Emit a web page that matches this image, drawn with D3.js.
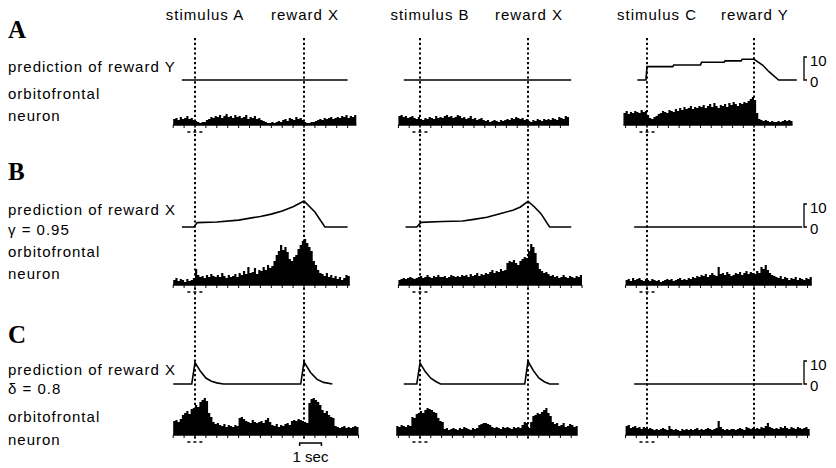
<!DOCTYPE html>
<html>
<head>
<meta charset="utf-8">
<script src="https://cdn.jsdelivr.net/npm/d3@7"></script>
<style>
body{margin:0;background:#fff}
text{font-family:'Liberation Sans',Arial,sans-serif;fill:#000}
</style>
</head>
<body>
<svg id="fig" width="836" height="468"></svg>
<script>

const panels = ['A','B','C']
const headers = [['stimulus A','reward X'],['stimulus B','reward X'],['stimulus C','reward Y']]
const rowLabels = [['prediction of reward Y'],['prediction of reward X','γ = 0.95'],['prediction of reward X','δ = 0.8']]
const events = [0, 5]   // seconds: stimulus onset, reward
const binWidth = 0.1

// histogram start time (s) per row / column
const histStart = [[-1.0,-1.0,-1.1],[-1.0,-1.0,-1.0],[-1.0,-1.1,-1.0]]

const histA1 = [6,7,5,8,6,7,9,6,7,5, 4,3,2,3,3, 5,6,8,7,9, 8,10,7,9,11,8,9,7,10,8, 9,7,8,10,6,8,7,9,6,7,
  5,4,3,2,2,3,2,3,4,3, 5,6,4,7,6,5,8,6,7,5, 3,2,2,3,3, 4,5,6,5,7,6,7,8,6,7, 8,7,9,8,10,7,9,8,10]
const histA2 = [9,10,8,9,7,8,9,7,6,8, 6,5,7,6,8,7,6,9,7,8, 7,9,10,8,9,7,8,10,9,7, 8,6,7,9,6,7,5,6,7,5,
  4,5,3,4,5,4,3,5,4,5, 6,5,7,6,8,7,6,7,5,6, 4,3,5,4,6,5,4,6,5,6, 5,7,6,5,8,7,6,9,8]
const histA3 = [12,14,11,13,12,14,13,12,15,13,14, 10,7,6,8,9, 11,12,14,13,12,15,14,13,16,14,
  17,15,18,16,17,19,16,18,17,19, 18,20,17,19,21,18,22,19,17,20, 19,21,18,22,20,23,21,19,22,21,
  23,22,24,26,28,25, 12,6,5,4, 5,4,3,4,3,3,4,3,4,5,4,5,4]

const histB1 = [5,7,4,6,5,3,6,4,5,7, 16,10, 8,9,7,10,8,11,9,8, 10,8,12,9,7,10,8,9,11,8,
  12,10,14,11,18,12,13,17,11,15, 14,18,15,20,17,19,24, 30,34,40,35,38,33, 26,24,28,30,
  36,40,44,46,42,38,34, 24,20,15,12, 11,9,12,8,10,7,9,6,8,5,7,10,9]
const histB2 = [5,6,7,6,7,8,7,6,7,8, 9,7,8,10,8,7,9,8,10,8, 8,9,7,8,10,9,8,9,8,10,
  9,10,8,11,9,10,12,9,11,10, 12,11,13,15,12,14,13,16,14,15, 22,24,23,25,22,20, 24,26,28,27,
  34,41,38,32, 22,16,14,12,13,11, 9,10,8,9,7,8,10,8,7,9,8,7,9,8,10]
const histB3 = [5,6,4,7,5,6,7,5,4,6, 5,4,6,5,4,5,3,4,5,6, 5,6,4,5,6,7,5,6,5,7, 6,8,7,9,8,10,9,11,8,10,
  12,10,9,18,11,12,10,13,11,9, 10,12,11,13,10,12,14,11,13,12, 11,14,12,18,16,20,15,12,10,9,
  8,7,9,6,8,7,5,7,6,8,5,7,6,5,7,6,8]

const histC1 = [14,15,13,16, 20,22,24,21,26,27, 30,28,33,35,37,34, 22,18, 13,11,12,10,9,11,8,10,9,8,10,9,
  17,18,16, 14,13,12,15,13,12,13,14,12,15,17,13, 10,9,11,8,10,9,11,12,10, 14,15,14,16,15,14,
  13,12, 32,36,37,35,33,30, 25,22,24,20,18,17, 9,8,7,8,9,7,8,7,8,9,8]
const histC2 = [9,8,10,9,8,10,9, 18,17,21,22, 24,22,25,27,26,25,23,22, 17,14,13,
  6,7,5,6,7,6,5,7,6,8,7,6,5,7,6,7, 10,11,12,12,11,10, 8,7,8,7,6,8,7,8,7,6,8,7,8,7,
  10,13,12,7,13, 19,20,22,21,23,25,27,22,19, 13,11,12,9,10,12,8,9,11,10,8,9]
const histC3 = [9,10,7,8,9,7,8,6,8,7, 6,7,6,5,6,5,6,7,6,5, 9,6,5,6,5,4,6,5,6,5, 6,5,6,7,5,6,5,6,7,6,
  5,6,7,14,8,6,5,6,5,6, 6,5,6,7,6,5,8,7,6,7, 6,7,6,8,7,9,12,8,7,6,
  7,6,8,7,9,7,6,8,7,6,8,7,6,7,8,6]

// model prediction traces: [time s, value]
const predA1 = [[-0.6,0],[7.0,0]]
const predA2 = [[-0.75,0],[7.0,0]]
const predA3 = [[-0.45,0],[-0.05,0],[0,5.8],[1.2,5.8],[1.25,6.5],[2.5,6.5],[2.55,7.7],[3.6,7.7],
  [3.65,8.3],[4.4,8.3],[4.45,9],[5,9],[5.4,6.5],[5.7,3.6],[6.15,0],[7.0,0]]

const predB1 = [[-0.6,0],[-0.05,0],[0.1,1.9],[1,2.2],[2,3.0],[3,4.6],[3.5,5.6],[4,7],[4.5,8.8],
  [5,11.3],[5.5,6.5],[5.96,0],[7.0,0]]
const predB2 = [[-0.67,0],[-0.15,0],[0.05,2.0],[1.05,2.4],[1.97,2.6],[2.5,3.3],[3.1,4.2],[3.7,5.8],
  [4.3,7.3],[4.65,8.7],[5,11.2],[5.3,8.7],[5.6,5.8],[6.0,0],[7.0,0]]
const predB3 = [[-0.6,0],[7.25,0]]

const predC1 = [[-1.0,0],[-0.15,0],[0,9.3],[0.25,5.5],[0.5,2.6],[0.75,1.2],[1,0.5],[1.3,0],
  [4.85,0],[5,9.6],[5.3,5.0],[5.6,2.0],[5.9,0.7],[6.3,0]]
const predC2 = [[-0.75,0],[-0.15,0],[0,9.1],[0.25,5.3],[0.5,2.5],[0.75,1.0],[0.95,0],
  [4.85,0],[5,9.9],[5.25,5.8],[5.5,2.6],[5.75,1.0],[6.0,0],[6.43,0]]
const predC3 = [[-0.6,0],[7.25,0]]

const hists = [[histA1,histA2,histA3],[histB1,histB2,histB3],[histC1,histC2,histC3]]
const preds = [[predA1,predA2,predA3],[predB1,predB2,predB3],[predC1,predC2,predC3]]

// layout
const colX = [[195,304],[420,528],[647,754]]
const predBase = [80,227,384]
const histBase = [125,285,435]
const letterY = [38,180,343]
const labelY = [[72],[215,235],[375,394]]
const neuronY = [[99,121],[257,279],[422,445]]

const svg = d3.select('#fig')

const xs = colX.map(r => d3.scaleLinear().domain(events).range(r))
const yPred = predBase.map(b => d3.scaleLinear().domain([0,10]).range([b, b-23]))
const yHist = histBase.map(b => d3.scaleLinear().domain([0,50]).range([b, b-50]))

// column headers
headers.forEach((h,c) => {
  svg.append('g').selectAll('text')
    .data(h)
    .enter()
    .append('text')
    .attr('x',(d,i) => xs[c](events[i]) + (i ? 1 : 10))
    .attr('y',20)
    .style('font-size','15px')
    .style('letter-spacing','1px')
    .style('text-anchor','middle')
    .text(d => d)
})

// event markers
xs.forEach(x => {
  svg.append('g').selectAll('line')
    .data(events)
    .enter()
    .append('line')
    .attr('x1',d => x(d))
    .attr('x2',d => x(d))
    .attr('y1',38)
    .attr('y2',441)
    .attr('stroke','#000')
    .attr('stroke-width',2)
    .attr('stroke-dasharray','2.2,2.6')
})

panels.forEach((p,r) => {
  svg.append('text')
    .attr('x',8)
    .attr('y',letterY[r])
    .style('font-family','"Liberation Serif","Times New Roman",serif')
    .style('font-weight','bold')
    .style('font-size','25px')
    .text(p)

  svg.append('g').selectAll('text')
    .data(rowLabels[r].concat(['orbitofrontal','neuron']))
    .enter()
    .append('text')
    .attr('x',8)
    .attr('y',(d,i) => i < rowLabels[r].length ? labelY[r][i] : neuronY[r][i - rowLabels[r].length])
    .style('font-size','15px')
    .style('letter-spacing','1px')
    .text(d => d)

  for (let c = 0; c < 3; c++) {
    const x = xs[c]
    const yp = yPred[r]
    const yh = yHist[r]
    const t0 = histStart[r][c]
    const vals = hists[r][c]
    const bins = vals.map((v,i) => [t0 + i*binWidth, v])
    const tEnd = t0 + vals.length*binWidth
    bins.push([tEnd, vals[vals.length-1]])

    svg.append('path')
      .datum(bins)
      .attr('fill','#000')
      .attr('d', d3.area()
        .curve(d3.curveStepAfter)
        .x(d => x(d[0]))
        .y0(histBase[r])
        .y1(d => yh(d[1])))

    svg.append('line')
      .attr('x1',x(t0)).attr('x2',x(tEnd))
      .attr('y1',histBase[r]).attr('y2',histBase[r])
      .attr('stroke','#000').attr('stroke-width',1.5)

    svg.append('g').selectAll('line')
      .data(d3.range(Math.ceil(t0*2)/2, tEnd + 0.01, 0.5))
      .enter()
      .append('line')
      .attr('x1',d => x(d)).attr('x2',d => x(d))
      .attr('y1',histBase[r]).attr('y2',histBase[r] + 3)
      .attr('stroke','#000').attr('stroke-width',1)

    // stimulus window mark
    svg.append('line')
      .attr('x1',x(-0.35)).attr('x2',x(0.45))
      .attr('y1',histBase[r] + 7).attr('y2',histBase[r] + 7)
      .attr('stroke','#000').attr('stroke-width',1.5)
      .attr('stroke-dasharray','3,3')

    svg.append('path')
      .datum(preds[r][c])
      .attr('fill','none')
      .attr('stroke','#000')
      .attr('stroke-width',1.6)
      .attr('d', d3.line().x(d => x(d[0])).y(d => yp(d[1])))
  }

  // 0-10 scale bracket
  const yp = yPred[r]
  svg.append('path')
    .attr('fill','none')
    .attr('stroke','#000')
    .attr('stroke-width',1.3)
    .attr('d', `M807,${yp(10)}H804V${yp(0)}H807`)
  svg.append('g').selectAll('text')
    .data([10,0])
    .enter()
    .append('text')
    .attr('x',810)
    .attr('y',d => yp(d) + (d ? 9 : 7))
    .style('font-size','15px')
    .text(d => d)
})

// time bar
const x0 = xs[0]
svg.append('path')
  .attr('fill','none')
  .attr('stroke','#000')
  .attr('stroke-width',1.5)
  .attr('d', `M${x0(4.8)},${histBase[2] + 11}V${histBase[2] + 8}H${x0(5.8)}V${histBase[2] + 11}`)
svg.append('text')
  .attr('x',x0(5.3))
  .attr('y',462)
  .style('font-size','15px')
  .style('text-anchor','middle')
  .text('1 sec')

</script>
</body>
</html>
